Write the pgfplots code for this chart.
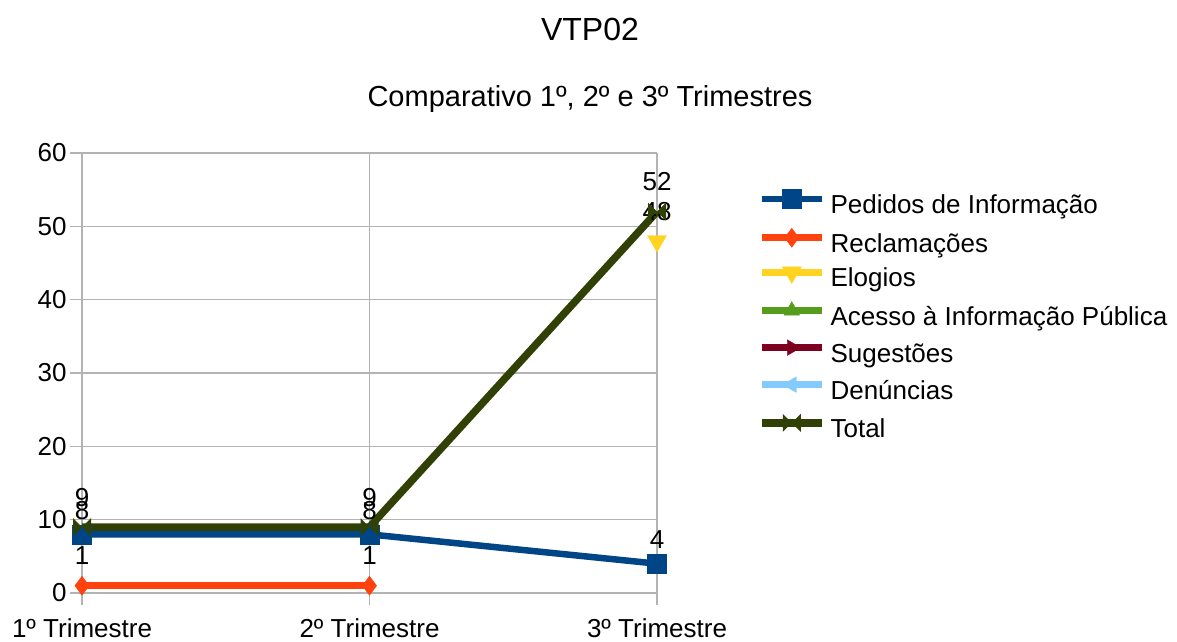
\documentclass[border=0pt]{standalone}
\usepackage{pgfplots}
\pgfplotsset{compat=1.18}
\usepackage{fontspec}
\setmainfont{Liberation Sans}

\definecolor{cped}{HTML}{004586}
\definecolor{crec}{HTML}{FF420E}
\definecolor{celo}{HTML}{FFD320}
\definecolor{cace}{HTML}{579D1C}
\definecolor{csug}{HTML}{7E0021}
\definecolor{cden}{HTML}{83CAFF}
\definecolor{ctot}{HTML}{314004}
\definecolor{cgrid}{HTML}{B3B3B3}

% bow-tie mark used for "Total"
\pgfdeclareplotmark{bowtie}{%
  \pgfpathmoveto{\pgfqpoint{-\pgfplotmarksize}{\pgfplotmarksize}}%
  \pgfpathlineto{\pgfqpoint{\pgfplotmarksize}{-\pgfplotmarksize}}%
  \pgfpathlineto{\pgfqpoint{\pgfplotmarksize}{\pgfplotmarksize}}%
  \pgfpathlineto{\pgfqpoint{-\pgfplotmarksize}{-\pgfplotmarksize}}%
  \pgfpathclose\pgfusepathqfill}

\begin{document}
\begin{tikzpicture}
\useasboundingbox (0,0) rectangle (1177pt,641pt);
\node[font=\fontsize{32}{38}\selectfont] at (590pt,612pt) {VTP02};
\node[font=\fontsize{29}{34}\selectfont] at (590pt,542pt) {Comparativo 1º, 2º e 3º Trimestres};
\begin{axis}[
    at={(82pt,48pt)}, anchor=south west,
    scale only axis, width=575pt, height=440pt,
    xmin=0, xmax=2, ymin=0, ymax=60,
    xtick={0,1,2},
    xticklabels={1º Trimestre,2º Trimestre,3º Trimestre},
    ytick={0,10,...,60},
    axis x line*=bottom, axis y line*=left,
    axis line style={cgrid, line width=1.3pt},
    grid=major,
    grid style={cgrid, line width=1.3pt},
    tick align=outside, major tick length=12pt,
    tick style={cgrid, line width=1.3pt},
    /pgf/number format/assume math mode=true,
    tick label style={font=\fontsize{26}{31}\selectfont},
    xticklabel style={yshift=-10pt},
    clip=false,
    nodes near coords,
    every node near coord/.append style={font=\fontsize{26}{31}\selectfont,
      black, anchor=base, inner sep=0pt, yshift=21pt},
    legend cell align=left,
    legend image code/.code={%
      \draw[mark repeat=2,mark phase=2,#1]
        plot coordinates {(0pt,8pt) (30pt,8pt) (60pt,8pt)};},
    legend style={at={(axis description cs:1.1757,0.917)}, anchor=north west,
      draw=none, fill=none, inner sep=0pt, outer sep=0pt,
      font=\fontsize{26}{31}\selectfont,
      nodes={inner sep=0pt, text height=18pt, text depth=5pt},
      row sep=9.7pt, column sep=5pt},
  ]
\addplot[cped, line width=6.5pt, mark=square*, mark size=9.5pt,
  mark options={line width=0.4pt, fill=cped},
  every node near coord/.append style={yshift=-6pt}]
  coordinates {(0,8) (1,8) (2,4)};
\addplot[crec, line width=6.5pt, mark=diamond*, mark size=9.5pt,
  mark options={line width=0.4pt, fill=crec}]
  coordinates {(0,1) (1,1)};
\addplot[celo, line width=6.5pt, mark=triangle*, mark size=11pt,
  mark options={line width=0.4pt, fill=celo, rotate=180}]
  coordinates {(2,48)};
\addlegendimage{cace, line width=6.5pt, mark=triangle*, mark size=9pt,
  mark options={line width=0.4pt, fill=cace}}
\addlegendimage{csug, line width=6.5pt, mark=triangle*, mark size=9pt,
  mark options={line width=0.4pt, fill=csug, rotate=-90}}
\addlegendimage{cden, line width=6.5pt, mark=triangle*, mark size=9pt,
  mark options={line width=0.4pt, fill=cden, rotate=90}}
\addplot[ctot, line width=7.5pt, mark=bowtie, mark size=9pt,
  mark options={line width=0.4pt, fill=ctot}]
  coordinates {(0,9) (1,9) (2,52)};
\legend{Pedidos de Informação, Reclamações, Elogios,
  Acesso à Informação Pública, Sugestões, Denúncias, Total}
\end{axis}
\end{tikzpicture}
\end{document}
